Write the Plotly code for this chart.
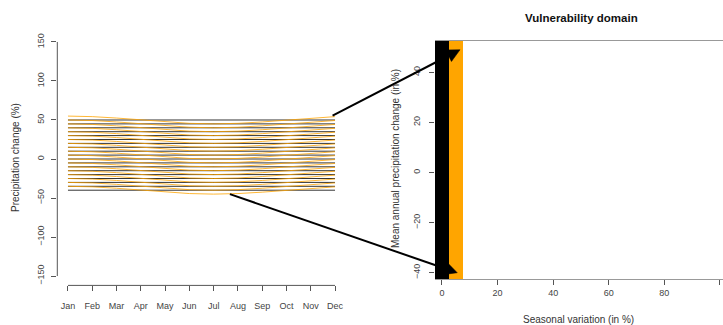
import math
import plotly.graph_objects as go

# ---------------- data ----------------
MONTHS = ["Jan", "Feb", "Mar", "Apr", "May", "Jun", "Jul", "Aug", "Sep", "Oct", "Nov", "Dec"]
MONTH_POS = [1, 2, 3, 4, 5, 6, 7, 8, 9, 10, 11, 12]
MEAN_CHANGES = [-40, -35, -30, -25, -20, -15, -10, -5, 0, 5, 10, 15, 20, 25, 30, 35, 40, 45, 50]
# seasonal anomaly (in % points) of the 5 % seasonal-variation scenario, read per month
SEASONAL_ANOMALY_5 = [5.0, 4.3, 2.5, 0.0, -2.5, -4.3, -5.0, -4.3, -2.5, 0.0, 2.5, 4.3]
SEASONAL_VARIATIONS = [0, 5]
SERIES_COLORS = ["#000000", "#FFA500"]

Y_TICKS_LEFT = [-150, -100, -50, 0, 50, 100, 150]
X_TICKS_RIGHT = [0, 20, 40, 60, 80, 100]
Y_TICKS_RIGHT = [-40, -20, 0, 20, 40]

# arrow anchors: (month, value) on the left panel -> (seasonal var, mean change) on the right
ARROW_TAILS = [(11.9, 55.5), (7.67, -45.0)]
ARROW_TIPS = [(6.5, 49.0), (5.5, -40.0)]

# ---------------- geometry (pixels) ----------------
W, H = 723, 325
L_X0, L_X1, L_Y0, L_Y1 = 57.3, 345.7, 32.6, 285.4
R_X0, R_X1, R_Y0, R_Y1 = 435.0, 723.0, 41.0, 279.0
L_XR, L_YR = [0.56, 12.44], [-162, 162]
R_XR, R_YR = [-2.5, 101.1], [-42.5, 52.5]

def to_px(x, y, X0, X1, Y0, Y1, XR, YR):
    px = X0 + (x - XR[0]) / (XR[1] - XR[0]) * (X1 - X0)
    py = Y1 - (y - YR[0]) / (YR[1] - YR[0]) * (Y1 - Y0)
    return px, py

def paper(px, py):
    return px / W, 1 - py / H

TICK_COL = "#444444"
AX_COL = "#555555"
FONT = "Liberation Sans, Arial, sans-serif"

fig = go.Figure()

# left panel lines
for sv, col in zip(SEASONAL_VARIATIONS, SERIES_COLORS):
    xs, ys = [], []
    for m in MEAN_CHANGES:
        for mp, a in zip(MONTH_POS, SEASONAL_ANOMALY_5):
            xs.append(mp)
            ys.append(m + a * sv / 5.0)
        xs.append(None)
        ys.append(None)
    fig.add_trace(go.Scatter(x=xs, y=ys, mode="lines", line=dict(color=col, width=0.8),
                             xaxis="x", yaxis="y", hoverinfo="skip", showlegend=False))

# right panel: vulnerability domain cells
z = [[i for i, _ in enumerate(SEASONAL_VARIATIONS)] for _ in MEAN_CHANGES]
fig.add_trace(go.Heatmap(x=SEASONAL_VARIATIONS, y=MEAN_CHANGES, z=z,
                         colorscale=[[0, SERIES_COLORS[0]], [0.5, SERIES_COLORS[0]],
                                     [0.5, SERIES_COLORS[1]], [1, SERIES_COLORS[1]]],
                         zmin=0, zmax=1, showscale=False, xaxis="x2", yaxis="y2",
                         hoverinfo="skip"))

tickfont = dict(family=FONT, size=9, color=TICK_COL)
fig.update_layout(
    width=W, height=H, margin=dict(l=0, r=0, t=0, b=0),
    paper_bgcolor="white", plot_bgcolor="white", showlegend=False,
    xaxis=dict(domain=[L_X0 / W, L_X1 / W], range=L_XR, tickvals=MONTH_POS, ticktext=MONTHS,
               ticks="outside", ticklen=5, tickcolor=AX_COL, tickfont=tickfont,
               ticklabelstandoff=7,
               showgrid=False, zeroline=False, showline=False, anchor="y"),
    yaxis=dict(domain=[1 - L_Y1 / H, 1 - L_Y0 / H], range=L_YR, tickvals=Y_TICKS_LEFT,
               ticks="outside", ticklen=5, tickcolor=AX_COL, tickfont=tickfont, tickangle=-90,
               ticklabelstandoff=4,
               showgrid=False, zeroline=False, showline=False, anchor="x"),
    xaxis2=dict(domain=[R_X0 / W, R_X1 / W], range=R_XR, tickvals=X_TICKS_RIGHT,
                ticks="outside", ticklen=5, tickcolor=AX_COL, tickfont=tickfont,
                showgrid=False, zeroline=False, showline=True, mirror=True,
                linecolor="#999999", linewidth=1, layer="below traces", anchor="y2"),
    yaxis2=dict(domain=[1 - R_Y1 / H, 1 - R_Y0 / H], range=R_YR, tickvals=Y_TICKS_RIGHT,
                ticks="outside", ticklen=5, tickcolor=AX_COL, tickfont=tickfont, tickangle=-90,
                ticklabelstandoff=5,
                showgrid=False, zeroline=False, showline=False, anchor="x2"),
)

# R-style axis lines on the left panel (only spanning the tick range)
fig.add_shape(type="line", xref="x", yref="y domain", x0=MONTH_POS[0], x1=MONTH_POS[-1],
              y0=0, y1=0, line=dict(color=AX_COL, width=1))
fig.add_shape(type="line", xref="x domain", yref="y", x0=0, x1=0,
              y0=Y_TICKS_LEFT[0], y1=Y_TICKS_LEFT[-1], line=dict(color=AX_COL, width=1))

# titles
def ann(text, px, py, size=10, angle=0, color="#333333", bold=False):
    x, y = paper(px, py)
    fig.add_annotation(text=f"<b>{text}</b>" if bold else text, x=x, y=y,
                       xref="paper", yref="paper", showarrow=False, textangle=angle,
                       font=dict(family=FONT, size=size, color=color),
                       xanchor="center", yanchor="middle")

ann("Precipitation change (%)", 15, 158, angle=-90)
ann("Mean annual precipitation change (in %)", 395, 158, angle=-90)
ann("Seasonal variation (in %)", 578, 319)
ann("Vulnerability domain", 581, 18, size=11.5, color="#111111", bold=True)

# connecting arrows (line + filled triangular head)
HEAD_LEN, HEAD_HALF = 13.0, 6.5
for (tx, ty), (hx, hy) in zip(ARROW_TAILS, ARROW_TIPS):
    tpx, tpy = to_px(tx, ty, L_X0, L_X1, L_Y0, L_Y1, L_XR, L_YR)
    hpx, hpy = to_px(hx, hy, R_X0, R_X1, R_Y0, R_Y1, R_XR, R_YR)
    dx, dy = hpx - tpx, hpy - tpy
    d = math.hypot(dx, dy)
    ux, uy = dx / d, dy / d
    bx, by = hpx - ux * HEAD_LEN, hpy - uy * HEAD_LEN
    p_tail, p_base = paper(tpx, tpy), paper(bx, by)
    fig.add_shape(type="line", xref="paper", yref="paper",
                  x0=p_tail[0], y0=p_tail[1], x1=p_base[0], y1=p_base[1],
                  line=dict(color="black", width=2))
    c1 = paper(bx - uy * HEAD_HALF, by + ux * HEAD_HALF)
    c2 = paper(bx + uy * HEAD_HALF, by - ux * HEAD_HALF)
    tip = paper(hpx, hpy)
    path = f"M{tip[0]},{tip[1]} L{c1[0]},{c1[1]} L{c2[0]},{c2[1]} Z"
    fig.add_shape(type="path", xref="paper", yref="paper", path=path,
                  fillcolor="black", line=dict(color="black", width=0.5))

fig.write_html("out.html")
